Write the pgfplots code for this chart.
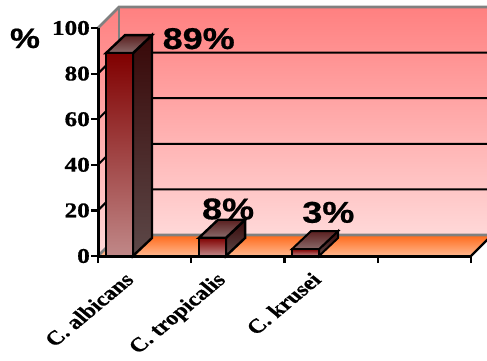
\documentclass[border=0pt]{standalone}
\usepackage{fontspec}
\setmainfont[BoldFeatures={FakeBold=0.6}]{Liberation Serif}
\newfontfamily\arialfont[BoldFeatures={FakeBold=0.6}]{Liberation Sans}
\usepackage{pgfplots}
\pgfplotsset{compat=1.18}
% all type in this figure is 1.2 times wider than it is tall
\newcommand{\wide}[1]{\scalebox{1.2}[1]{#1}}
\newcommand{\ylab}[1]{\wide{\fontsize{21}{21}\selectfont\bfseries #1}}
\newcommand{\xlab}[1]{\wide{\rotatebox{45}{\fontsize{20}{20}\selectfont\bfseries #1}}}
\newcommand{\pct}[1]{\wide{\fontsize{30}{30}\arialfont\selectfont\bfseries #1}}
\definecolor{wallTop}{HTML}{FF8080}
\definecolor{wallBot}{HTML}{FFD8D8}
\definecolor{floorBack}{HTML}{FF6A1A}
\definecolor{floorFront}{HTML}{FFB890}
\definecolor{edgeGray}{HTML}{808080}
\definecolor{barTop}{HTML}{800000}
\definecolor{barBot}{HTML}{C08888}
\definecolor{sideTop}{HTML}{380808}
\definecolor{sideBot}{HTML}{5C4848}
\definecolor{capBack}{HTML}{5A2020}
\definecolor{capFront}{HTML}{8A6A6A}
\begin{document}
\begin{tikzpicture}
\clip[use as bounding box] (0,0) rectangle (487pt,360pt);
\begin{axis}[
  at={(98pt,104pt)}, anchor=south west,
  scale only axis, width=373pt, height=228pt,
  xmin=0, xmax=4, ymin=0, ymax=100,
  clip=false, axis on top=true,
  axis x line*=bottom, axis y line*=left,
  axis line style={line width=3pt, black, -},
  tick style={line width=2.2pt, black},
  tick align=outside, major tick length=7pt,
  xtick={0,1,2,3,4}, xticklabels={},
  ytick={0,20,40,60,80,100},
  yticklabels={\ylab{0},\ylab{20},\ylab{40},\ylab{60},\ylab{80},\ylab{100}},
  yticklabel style={inner sep=1pt},
  extra x ticks={0.40,1.42,2.41},
  extra x tick labels={\xlab{C. albicans},\xlab{C. tropicalis},\xlab{C. krusei}},
  extra x tick style={major tick length=0pt,
    xticklabel style={anchor=north east, inner sep=0pt, yshift=-15pt}},
]
% back wall and left wall
\addplot[draw=none, top color=wallTop, bottom color=wallBot]
  coordinates {(0.225,9.2) (0.225,109.2) (4.3,109.2) (4.3,9.2)} --cycle;
\addplot[draw=none, top color=wallTop, bottom color=wallBot]
  coordinates {(0,0) (0,100) (0.225,109.2) (0.225,9.2)} --cycle;
% floor
\addplot[draw=none, top color=floorBack, bottom color=floorFront]
  coordinates {(0,0) (0.225,9.2) (4.225,9.2) (4,0)} --cycle;
% gridlines across both walls
\addplot[black, line width=2pt] coordinates {(0,20) (0.225,29.2) (4.3,29.2)};
\addplot[black, line width=2pt] coordinates {(0,40) (0.225,49.2) (4.3,49.2)};
\addplot[black, line width=2pt] coordinates {(0,60) (0.225,69.2) (4.3,69.2)};
\addplot[black, line width=2pt] coordinates {(0,80) (0.225,89.2) (4.3,89.2)};
% wall edges
\addplot[edgeGray, line width=2.6pt] coordinates {(0,100) (0.225,109.2) (4.3,109.2)};
\addplot[edgeGray, line width=2.2pt] coordinates {(0.225,9.2) (0.225,109.2)};
\addplot[edgeGray, line width=2.6pt] coordinates {(0,0) (0.225,9.2) (4.3,9.2)};
\addplot[black, line width=2.2pt] coordinates {(4,0) (4.225,9.2)};
% bar: C. albicans, 89
\addplot[draw=black, line width=2.4pt, top color=sideTop, bottom color=sideBot]
  coordinates {(0.375,0) (0.375,89) (0.579,96.9) (0.579,7.9)} --cycle;
\addplot[draw=black, line width=2.4pt, top color=capBack, bottom color=capFront]
  coordinates {(0.086,89) (0.29,96.9) (0.579,96.9) (0.375,89)} --cycle;
\addplot[draw=black, line width=2.4pt, top color=barTop, bottom color=barBot]
  coordinates {(0.086,0) (0.086,89) (0.375,89) (0.375,0)} --cycle;
% bar: C. tropicalis, 8
\addplot[draw=black, line width=2.4pt, top color=sideTop, bottom color=sideBot]
  coordinates {(1.373,0) (1.373,8) (1.577,15.9) (1.577,7.9)} --cycle;
\addplot[draw=black, line width=2.4pt, top color=capBack, bottom color=capFront]
  coordinates {(1.083,8) (1.287,15.9) (1.577,15.9) (1.373,8)} --cycle;
\addplot[draw=black, line width=2.4pt, top color=barTop, bottom color=barBot]
  coordinates {(1.083,0) (1.083,8) (1.373,8) (1.373,0)} --cycle;
% bar: C. krusei, 3
\addplot[draw=black, line width=2pt, top color=sideTop, bottom color=sideBot]
  coordinates {(2.37,0) (2.37,3) (2.574,10.9) (2.574,7.9)} --cycle;
\addplot[draw=black, line width=2pt, top color=capBack, bottom color=capFront]
  coordinates {(2.08,3) (2.284,10.9) (2.574,10.9) (2.37,3)} --cycle;
\addplot[draw=black, line width=2pt, top color=barTop, bottom color=barBot]
  coordinates {(2.08,0) (2.08,3) (2.37,3) (2.37,0)} --cycle;
% value labels
\node[anchor=base, inner sep=0pt] at (axis cs:1.08,90.8) {\pct{89\%}};
\node[anchor=base, inner sep=0pt] at (axis cs:1.395,16.1) {\pct{8\%}};
\node[anchor=base, inner sep=0pt] at (axis cs:2.47,14.6) {\pct{3\%}};
\end{axis}
\node[anchor=base, inner sep=0pt] at (25pt,312pt) {\wide{\fontsize{28}{28}\arialfont\selectfont\bfseries \%}};
\end{tikzpicture}
\end{document}
